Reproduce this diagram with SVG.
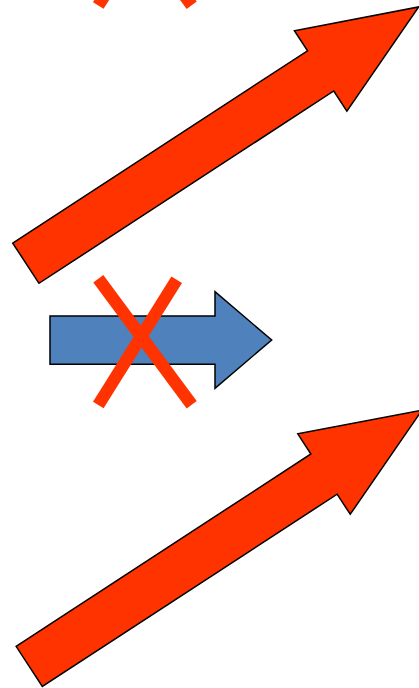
<svg xmlns="http://www.w3.org/2000/svg" width="419" height="688" viewBox="0 0 419 688">
<style>
.red{fill:#FF3300;stroke:#000;stroke-width:1.5;stroke-linejoin:miter}
.blue{fill:#4F81BD;stroke:#000;stroke-width:1.5}
.x{stroke:#FF3300;stroke-width:12.5;fill:none;stroke-linecap:butt}
</style>
<defs>
<polygon id="bigArrow" points="0,-24 352,-24 352,-48 469,0 352,48 352,24 0,24"/>
<g id="cross">
<line x1="98.3" y1="278.8" x2="191.7" y2="404.7"/>
<line x1="176.7" y1="279.7" x2="98.3" y2="405"/>
</g>
</defs>
<rect width="419" height="688" fill="#fff"/>
<g id="cross-top" class="x" transform="translate(0,-399.5)">
<use href="#cross"/>
</g>
<g id="arrow-top">
<use href="#bigArrow" class="red" transform="translate(25.85,263.2) rotate(-33.12)"/>
</g>
<g id="arrow-blue">
<polygon class="blue" points="50,316 215,316 215,291.7 271.7,340 215,388.3 215,364.3 50,364.3"/>
</g>
<g id="cross-mid" class="x">
<use href="#cross"/>
</g>
<g id="arrow-bottom">
<use href="#bigArrow" class="red" transform="translate(29.2,666.4) rotate(-33.12)"/>
</g>
<g id="connectors"/>
</svg>
